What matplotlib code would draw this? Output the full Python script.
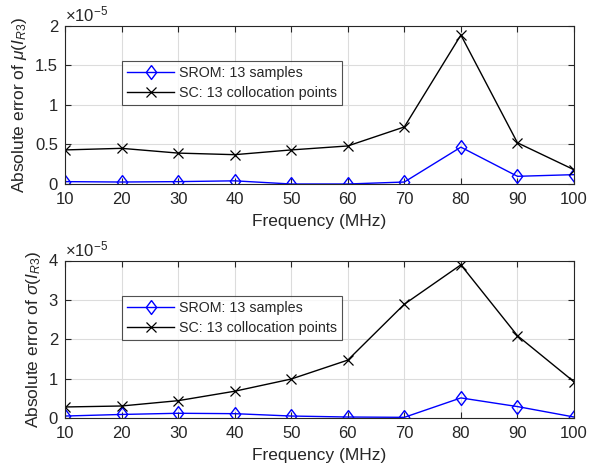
import matplotlib.pyplot as plt
from matplotlib.ticker import MultipleLocator

plt.rcParams['font.family'] = ['Liberation Sans', 'DejaVu Sans']
plt.rcParams['mathtext.fontset'] = 'custom'
plt.rcParams['mathtext.rm'] = 'Liberation Sans'
plt.rcParams['mathtext.it'] = 'Liberation Sans:italic'

freq = [10, 20, 30, 40, 50, 60, 70, 80, 90, 100]

# values in units of 1e-5
mu_srom = [0.03, 0.025, 0.03, 0.04, 0.0, 0.0, 0.025, 0.465, 0.097, 0.118]
mu_sc = [0.43, 0.45, 0.39, 0.37, 0.43, 0.48, 0.72, 1.88, 0.52, 0.18]
sig_srom = [0.05, 0.09, 0.12, 0.11, 0.05, 0.025, 0.017, 0.51, 0.29, 0.025]
sig_sc = [0.28, 0.305, 0.44, 0.68, 0.99, 1.47, 2.89, 3.89, 2.09, 0.92]

panels = [
    (mu_srom, mu_sc, 2, 0.5, r'Absolute error of $\mu(I_{R3})$'),
    (sig_srom, sig_sc, 4, 1, r'Absolute error of $\sigma(I_{R3})$'),
]

# matlab style diamond (a bit taller than wide)
diamond = [(0, 1), (0.75, 0), (0, -1), (-0.75, 0), (0, 1)]

fig = plt.figure(figsize=(5.89, 4.70), dpi=100)
tc = '#262626'
boxes = [[65 / 589, 1 - 184 / 470, 509 / 589, 158.5 / 470],
         [65 / 589, 1 - 418 / 470, 509 / 589, 157.5 / 470]]

for box, (srom, sc, ymax, step, ylab) in zip(boxes, panels):
    ax = fig.add_axes(box)
    ax.plot(freq, srom, color='#0000ff', marker=diamond, markersize=10,
            markerfacecolor='none', linewidth=1, label='SROM: 13 samples')
    ax.plot(freq, sc, color='k', marker='x', markersize=7, markeredgewidth=0.9,
            linewidth=1, label='SC: 13 collocation points')
    ax.set_xlim(10, 100)
    ax.set_ylim(0, ymax)
    ax.set_xticks(freq)
    ax.yaxis.set_major_locator(MultipleLocator(step))
    ax.yaxis.set_major_formatter(plt.FuncFormatter(lambda v, p: f'{v:g}'))
    ax.grid(True, color='#dcdcdc', linewidth=0.8)
    ax.tick_params(direction='in', top=True, right=True, labelsize=12,
                   colors=tc, length=4)
    ax.tick_params(axis='x', pad=6)
    ax.tick_params(axis='y', pad=5)
    for s in ax.spines.values():
        s.set_color(tc)
        s.set_linewidth(0.8)
    ax.set_xlabel('Frequency (MHz)', fontsize=12.5, color=tc, labelpad=5)
    ax.set_ylabel(ylab, fontsize=12.5, color=tc, labelpad=4)
    ax.text(0.0, 1.01, r'$\times10^{-5}$', transform=ax.transAxes,
            fontsize=12, color=tc, va='bottom', ha='left')
    leg = ax.legend(loc='upper left', bbox_to_anchor=(0.112, 0.775),
                    fontsize=10.3, frameon=True, fancybox=False,
                    edgecolor=tc, handlelength=3.3, handletextpad=0.35,
                    borderpad=0.35, labelspacing=0.4, borderaxespad=0)
    leg.get_frame().set_linewidth(0.8)
    for t in leg.get_texts():
        t.set_color(tc)

plt.savefig('out.png', dpi=100)
